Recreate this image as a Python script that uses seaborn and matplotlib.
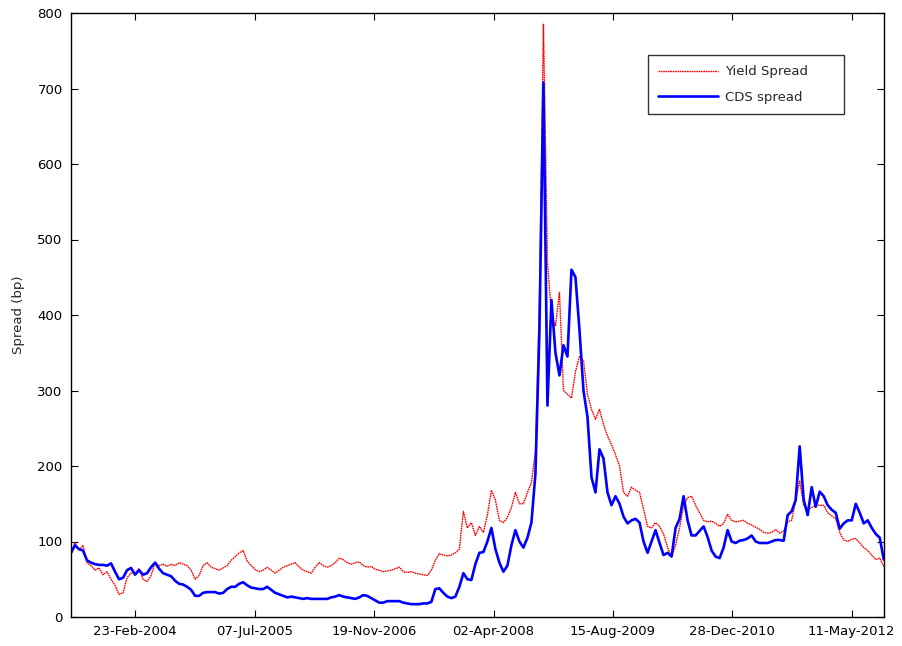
import numpy as np
import pandas as pd
import matplotlib
matplotlib.use("Agg")
import matplotlib.pyplot as plt
import matplotlib.dates as mdates
import seaborn as sns

# Spreads in basis points, sampled at evenly spaced dates over the window
yield_spread = [
    82, 98, 88, 95, 72, 68, 62, 65, 56, 60, 50, 42, 30, 32, 52, 58, 58, 64, 50, 47,
    55, 72, 68, 70, 67, 70, 68, 72, 70, 68, 62, 50, 55, 68, 72, 66, 64, 62, 65, 68, 75,
    80, 85, 88, 74, 68, 63, 60, 62, 66, 62, 58, 62, 66, 68, 70, 72, 66, 62, 60, 58,
    66, 72, 68, 66, 68, 72, 78, 76, 72, 70, 72, 73, 68, 66, 67, 63, 62, 60,
    61, 62, 64, 66, 60, 59, 60, 58, 57, 56, 55, 62, 75, 84, 82, 81, 82, 85, 90, 140,
    118, 125, 108, 120, 112, 135, 168, 155, 128, 125, 132, 145, 165, 150, 150, 165, 178, 220,
    420, 785, 470, 400, 385, 430, 300, 295, 290, 325, 345, 340, 295, 275, 262, 275,
    255, 240, 228, 215, 200, 165, 160, 172, 168, 165,
    143, 120, 118, 125, 120, 110, 92, 80, 95, 118, 148, 158, 160, 148, 138, 128,
    126, 127, 124, 120, 124, 136, 128, 126, 127, 128, 124, 122, 119, 116, 112, 111,
    112, 116, 111, 114, 126, 128, 155, 180, 148, 142, 145, 148, 148, 148, 138, 134,
    130, 112, 102, 100, 103, 104, 98, 92, 88, 82, 76, 78, 67,
]
cds_spread = [
    85, 95, 90, 88, 75, 72, 70, 69, 69, 68, 71, 60, 50, 52, 62, 65, 56, 62, 56, 58,
    66, 72, 64, 58, 56, 54, 48, 44, 43, 40, 36, 28, 28, 32, 33, 33, 33, 31, 32, 37, 40,
    40, 44, 46, 42, 39, 38, 37, 37, 40, 36, 32, 30, 28, 26, 27, 26, 25, 24, 25, 24,
    24, 24, 24, 24, 26, 27, 29, 27, 26, 25, 24, 26, 29, 28, 25, 22, 19, 19,
    21, 21, 21, 21, 19, 18, 17, 17, 17, 18, 18, 20, 37, 38, 32, 27, 25, 27, 40, 58,
    50, 49, 70, 85, 86, 100, 118, 90, 72, 60, 68, 95, 115, 100, 92, 105, 125, 190,
    380, 708, 280, 420, 350, 320, 360, 345, 460, 450, 380, 300, 265, 185, 165, 222,
    210, 165, 148, 160, 150, 133, 124, 128, 130, 125,
    100, 85, 100, 115, 98, 82, 85, 80, 118, 130, 160, 128, 108, 108, 114, 120,
    106, 88, 80, 78, 92, 115, 100, 98, 101, 102, 104, 108, 100, 98, 98, 98,
    100, 102, 102, 101, 135, 140, 155, 226, 155, 135, 172, 146, 166, 160, 148, 142,
    138, 117, 124, 128, 128, 150, 138, 124, 128, 118, 110, 105, 76,
]
start_date, end_date = "2003-05-30", "2012-09-22"
tick_dates = ["2004-02-23", "2005-07-07", "2006-11-19", "2008-04-02",
              "2009-08-15", "2010-12-28", "2012-05-11"]
y_ticks = [0, 100, 200, 300, 400, 500, 600, 700, 800]

dates = pd.date_range(start_date, end_date, periods=len(yield_spread))
df = pd.DataFrame({"date": dates, "Yield Spread": yield_spread, "CDS spread": cds_spread})

sns.set_style("white")
plt.rcParams["font.family"] = ["DejaVu Sans"]

fig = plt.figure(figsize=(9.03, 6.46), dpi=100)
ax = fig.add_axes([71 / 903, 1 - 617 / 646, 813 / 903, 604 / 646])

sns.lineplot(data=df, x="date", y="Yield Spread", ax=ax, color=(1, 0, 0),
             linewidth=1.0, linestyle=(0, (1.2, 0.5)), estimator=None, label="Yield Spread")
sns.lineplot(data=df, x="date", y="CDS spread", ax=ax, color=(0, 0, 1),
             linewidth=1.9, estimator=None, label="CDS spread")

ax.set_xlim(pd.Timestamp("2003-05-30"), pd.Timestamp("2012-09-23"))
ax.set_ylim(0, 800)
ax.set_xticks(pd.to_datetime(tick_dates))
ax.xaxis.set_major_formatter(mdates.DateFormatter("%d-%b-%Y"))
ax.set_yticks(y_ticks)
ax.set_xlabel("")
ax.set_ylabel("Spread (bp)", fontsize=9.5, labelpad=9)

for side in ax.spines.values():
    side.set_color("black")
    side.set_linewidth(1.0)
ax.tick_params(direction="in", length=5, width=0.8, bottom=True, left=True,
               top=True, right=True, labelsize=9.5, colors="black", pad=6)
ax.grid(False)

leg = ax.legend(loc="upper left", bbox_to_anchor=(0.710, 0.831, 0.241, 0.099),
                mode="expand", borderaxespad=0,
                frameon=True, fancybox=False, edgecolor="black", fontsize=9.5,
                handlelength=4.5, handletextpad=0.6, borderpad=0.75, labelspacing=0.95)
leg.get_frame().set_linewidth(1.0)

fig.savefig("out.png", dpi=100)
